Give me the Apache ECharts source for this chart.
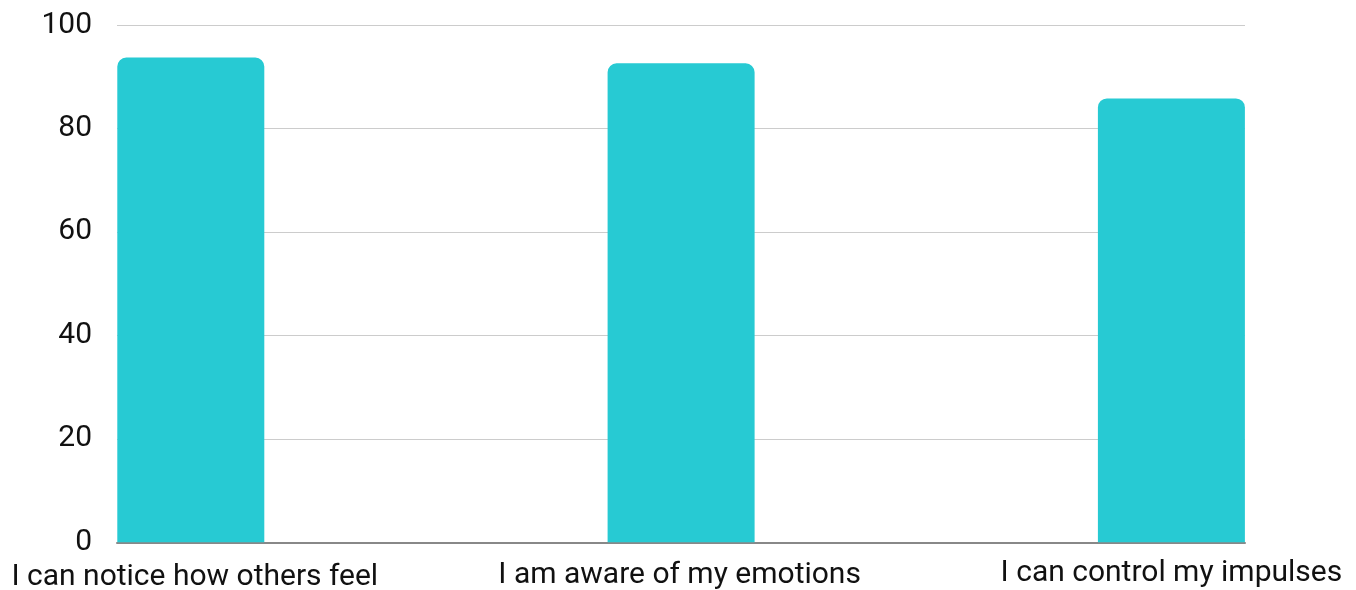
<!DOCTYPE html>
<html>
<head>
<meta charset="utf-8">
<script src="https://cdn.jsdelivr.net/npm/echarts@6/dist/echarts.min.js"></script>
<style>html,body{margin:0;padding:0;background:#fff}#c{width:1356px;height:590px}</style>
</head>
<body>
<div id="c"></div>
<script>
var categories = ['I can notice how others feel', 'I am aware of my emotions', 'I can control my impulses'];
var values = [93.7, 92.6, 85.8];
var yTicks = [0, 20, 40, 60, 80, 100];
var labelPadding = [[4, 0, 0, 8], [2, 3, 0, 0], [0, 0, 0, 0]];

var chart = echarts.init(document.getElementById('c'), null, {renderer: 'canvas'});
var font = 'Roboto';
chart.setOption({
  animation: false,
  grid: [
    {left: 190.8, width: 980.6, top: 25, height: 517.3, outerBoundsMode: 'none', containLabel: false},
    {left: 117, width: 1128, top: 25, height: 517.3, outerBoundsMode: 'none', containLabel: false}
  ],
  xAxis: [
    {
      type: 'category', gridIndex: 0, boundaryGap: false,
      data: categories.map(function (c, i) {
        return {value: c, textStyle: {padding: labelPadding[i]}};
      }),
      axisLine: {show: false}, axisTick: {show: false},
      axisLabel: {color: '#111', fontFamily: font, fontSize: 30, margin: 16.5, interval: 0}
    },
    {
      type: 'value', gridIndex: 1, min: 0, max: 1,
      axisLine: {show: true, onZero: false, lineStyle: {color: '#888', width: 2}},
      axisTick: {show: false}, axisLabel: {show: false}, splitLine: {show: false}
    }
  ],
  yAxis: [
    {type: 'value', gridIndex: 0, min: 0, max: 100, interval: 20, show: false, splitLine: {show: false}},
    {
      type: 'value', gridIndex: 1, min: 0, max: 100, interval: 20,
      axisLine: {show: false}, axisTick: {show: false},
      axisLabel: {color: '#111', fontFamily: font, fontSize: 30, margin: 25, padding: [4, 0, 0, 0],
        formatter: function (v) { return yTicks.indexOf(v) >= 0 ? String(v) : ''; }},
      splitLine: {lineStyle: {color: '#cccccc', width: 1}}
    }
  ],
  series: [{
    type: 'bar', xAxisIndex: 0, yAxisIndex: 0, data: values, barWidth: 147,
    itemStyle: {color: '#27CAD3', borderRadius: [9, 9, 0, 0]}, z: 5
  }]
});
</script>
</body>
</html>
